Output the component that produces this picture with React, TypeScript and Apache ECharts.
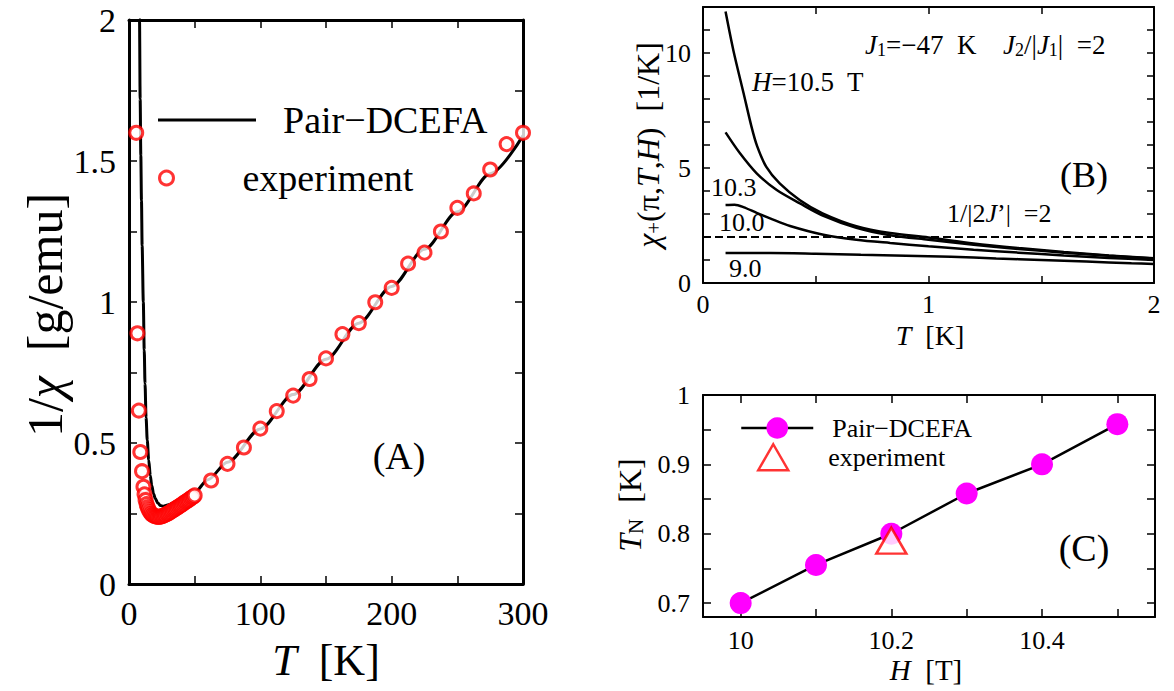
import React, { useEffect, useRef } from "react";
import * as echarts from "echarts";

const FONT = "Liberation Serif, Times New Roman, Times, serif";

// ---------- Panel (A): 1/chi vs T ----------
const aTheoryT = [7.7, 8.0, 8.5, 9.0, 9.5, 10.0, 10.9, 11.6, 12.2, 13.0, 13.9, 15.0, 16.2, 17.3, 18.7, 20, 22, 24, 26, 28, 30, 35, 40, 45, 50, 60, 75, 100, 125, 150, 175, 200, 225, 250, 275, 300];
const aTheoryInvChi = [2.3, 2.0, 1.72, 1.52, 1.36, 1.2, 1.0, 0.83, 0.71, 0.59, 0.51, 0.44, 0.385, 0.35, 0.32, 0.303, 0.287, 0.278, 0.276, 0.278, 0.281, 0.29, 0.3, 0.312, 0.325, 0.37, 0.432, 0.55, 0.672, 0.797, 0.925, 1.055, 1.187, 1.32, 1.455, 1.59];

const aExpT = [5.5, 6.4, 7.5, 8.6, 9.9, 11.0, 11.8, 12.6, 13.4, 14.2, 15, 16, 17, 18, 19, 20, 21, 22, 23, 24, 25, 26, 27, 28, 29, 30, 31, 32, 33, 34, 35, 36, 37, 38, 39, 40, 41, 42, 43, 44, 45, 46, 47, 48, 49, 50, 62.5, 75, 87.5, 100, 112.5, 125, 137.5, 150, 162.5, 175, 187.5, 200, 212.5, 225, 237.5, 250, 262.5, 275, 287.5, 300];
const aExpInvChi = [1.6, 0.889, 0.615, 0.468, 0.4, 0.345, 0.318, 0.298, 0.283, 0.272, 0.263, 0.255, 0.249, 0.245, 0.242, 0.24, 0.239, 0.238, 0.238, 0.239, 0.24, 0.242, 0.244, 0.246, 0.249, 0.251, 0.254, 0.257, 0.26, 0.263, 0.266, 0.269, 0.272, 0.275, 0.278, 0.281, 0.284, 0.288, 0.291, 0.294, 0.297, 0.3, 0.304, 0.307, 0.31, 0.314, 0.367, 0.426, 0.484, 0.551, 0.613, 0.668, 0.727, 0.8, 0.886, 0.925, 0.999, 1.05, 1.136, 1.175, 1.25, 1.334, 1.385, 1.47, 1.56, 1.6];

const aXTicks = [0, 50, 100, 150, 200, 250, 300];
const aXLabels = [0, 100, 200, 300];
const aYTicks = [0, 0.25, 0.5, 0.75, 1, 1.25, 1.5, 1.75, 2];
const aYLabels = [0, 0.5, 1, 1.5, 2];

// ---------- Panel (B): chi_+(pi,T,H) vs T ----------
const bT105 = [0.1, 0.135, 0.18, 0.215, 0.24, 0.28, 0.34, 0.43, 0.53, 0.68, 0.83, 1.0, 1.2, 1.4, 1.6, 1.8, 2.0];
const bChi105 = [11.8, 10.1, 8.25, 6.8, 5.95, 5.06, 4.33, 3.6, 3.03, 2.47, 2.17, 1.98, 1.72, 1.52, 1.35, 1.2, 1.08];
const bT103 = [0.1, 0.164, 0.238, 0.327, 0.43, 0.534, 0.68, 0.83, 1.0, 1.2, 1.4, 1.6, 1.8, 2.0];
const bChi103 = [6.55, 5.64, 4.77, 4.04, 3.46, 2.92, 2.4, 2.08, 1.88, 1.66, 1.48, 1.32, 1.18, 1.06];
const bT100 = [0.1, 0.14, 0.179, 0.238, 0.3, 0.386, 0.534, 0.68, 0.83, 1.0, 1.2, 1.4, 1.6, 1.8, 2.0];
const bChi100 = [3.39, 3.4, 3.3, 3.05, 2.8, 2.48, 2.1, 1.88, 1.74, 1.6, 1.45, 1.32, 1.2, 1.09, 1.0];
const bT90 = [0.1, 0.3, 0.5, 0.7, 0.9, 1.1, 1.3, 1.5, 1.7, 1.9, 2.0];
const bChi90 = [1.3, 1.3, 1.27, 1.23, 1.19, 1.14, 1.07, 1.0, 0.93, 0.86, 0.83];
const bCriticalChi = 2; // 1/|2J'| = 2

const bXTicks = [0, 0.5, 1, 1.5, 2];
const bXLabels = [0, 1, 2];
const bYTicks = [0, 1, 2, 3, 4, 5, 6, 7, 8, 9, 10, 11, 12];
const bYLabels = [0, 5, 10];

// ---------- Panel (C): T_N vs H ----------
const cH = [10, 10.1, 10.2, 10.3, 10.4, 10.5];
const cTN = [0.7, 0.755, 0.8, 0.858, 0.9, 0.958];
const cExpH = [10.2];
const cExpTN = [0.79];

const cXTicks = [10, 10.1, 10.2, 10.3, 10.4, 10.5];
const cXLabels = [10, 10.2, 10.4];
const cYTicks = [0.7, 0.75, 0.8, 0.85, 0.9, 0.95, 1];
const cYLabels = [0.7, 0.8, 0.9, 1];

const zip = (xs: number[], ys: number[]) => xs.map((x, i) => [x, ys[i]]);

type AxisSpec = {
  grid: number; min: number; max: number; ticks: number[]; labels: number[];
  fontSize: number; margin: number; lineWidth: number; tickLen: number;
};

function axisPair(dim: "x" | "y", s: AxisSpec) {
  const base = (pos: string, showLabel: boolean) => ({
    type: "value",
    gridIndex: s.grid,
    position: pos,
    min: s.min,
    max: s.max,
    axisLine: { show: true, onZero: false, lineStyle: { color: "#000", width: s.lineWidth } },
    axisTick: { show: true, inside: true, length: s.tickLen, lineStyle: { color: "#000", width: 1.5 }, customValues: s.ticks },
    axisLabel: {
      show: showLabel, customValues: s.labels, formatter: (v: number) => String(v),
      fontFamily: FONT, fontSize: s.fontSize, color: "#000", margin: s.margin,
    },
    splitLine: { show: false },
    minorTick: { show: false },
  });
  return dim === "x" ? [base("bottom", true), base("top", false)] : [base("left", true), base("right", false)];
}

function rich(size: number) {
  return {
    i: { fontStyle: "italic", fontSize: size, fontFamily: FONT, fill: "#000", color: "#000" },
    sub: { fontSize: Math.round(size * 0.65), fontFamily: FONT, fill: "#000", color: "#000", verticalAlign: "bottom" },
  };
}

function txt(x: number, y: number, text: string, size: number, align = "center", rotation = 0) {
  return {
    type: "text",
    x, y, rotation, z: 100, silent: true,
    style: {
      text, fontSize: size, fontFamily: FONT, fill: "#000",
      textAlign: align, textVerticalAlign: "middle", align, verticalAlign: "middle",
      rich: rich(size),
    },
  };
}

export default function App() {
  const ref = useRef<HTMLDivElement>(null);
  useEffect(() => {
    if (!ref.current) return;
    const chart = echarts.init(ref.current, null, { renderer: "svg" });

    const xAxes = [
      ...axisPair("x", { grid: 0, min: 0, max: 300, ticks: aXTicks, labels: aXLabels, fontSize: 34, margin: 12, lineWidth: 3, tickLen: 8 }),
      ...axisPair("x", { grid: 1, min: 0, max: 2, ticks: bXTicks, labels: bXLabels, fontSize: 26, margin: 8, lineWidth: 2, tickLen: 7 }),
      ...axisPair("x", { grid: 2, min: 9.95, max: 10.55, ticks: cXTicks, labels: cXLabels, fontSize: 26, margin: 10, lineWidth: 2, tickLen: 8 }),
    ];
    const yAxes = [
      ...axisPair("y", { grid: 0, min: 0, max: 2, ticks: aYTicks, labels: aYLabels, fontSize: 34, margin: 13, lineWidth: 3, tickLen: 8 }),
      ...axisPair("y", { grid: 1, min: 0, max: 12, ticks: bYTicks, labels: bYLabels, fontSize: 26, margin: 12, lineWidth: 2, tickLen: 7 }),
      ...axisPair("y", { grid: 2, min: 0.68, max: 1.0, ticks: cYTicks, labels: cYLabels, fontSize: 26, margin: 13, lineWidth: 2, tickLen: 8 }),
    ];

    const bLine = (name: string, xs: number[], ys: number[]) => ({
      name, type: "line", xAxisIndex: 2, yAxisIndex: 2, data: zip(xs, ys),
      symbol: "none", smooth: 0.3, lineStyle: { color: "#000", width: 2.5 }, itemStyle: { color: "#000" },
      silent: true,
    });

    const option: any = {
      animation: false,
      backgroundColor: "#fff",
      textStyle: { fontFamily: FONT },
      grid: [
        { left: 129, top: 20, width: 394, height: 564, containLabel: false, outerBoundsMode: "none" },
        { left: 703, top: 7, width: 451, height: 276, containLabel: false, outerBoundsMode: "none" },
        { left: 703, top: 395, width: 452, height: 222, containLabel: false, outerBoundsMode: "none" },
      ],
      xAxis: xAxes,
      yAxis: yAxes,
      legend: [
        {
          left: 158, top: 101, orient: "vertical", padding: 0, selectedMode: false,
          itemWidth: 98, itemHeight: 3,
          data: [{ name: "Pair−DCEFA", icon: "rect" }],
          itemStyle: { color: "#000", borderWidth: 0 },
          textStyle: { fontFamily: FONT, fontSize: 38, color: "#000", padding: [0, 0, 0, 22] },
        },
        {
          left: 158, top: 159, orient: "vertical", padding: 0, selectedMode: false,
          itemWidth: 78, itemHeight: 14,
          data: [{ name: "experiment" }],
          itemStyle: { borderWidth: 3, borderColor: "#ff0000", color: "#fff" },
          textStyle: { fontFamily: FONT, fontSize: 38, color: "#000", padding: [0, 0, 0, 32] },
        },
        {
          left: 740, top: 415, orient: "vertical", padding: 0, selectedMode: false,
          itemWidth: 72, itemHeight: 27,
          data: [{ name: "Pair−DCEFA (C)" }],
          formatter: (n: string) => n.replace(" (C)", ""),
          itemStyle: { borderWidth: 0 },
          lineStyle: { color: "#000", width: 2.5 },
          textStyle: { fontFamily: FONT, fontSize: 26, color: "#000", padding: [0, 0, 0, 14] },
        },
        {
          left: 757, top: 443, orient: "vertical", padding: 0, selectedMode: false,
          itemWidth: 30, itemHeight: 26,
          data: [{ name: "experiment (C)" }],
          formatter: (n: string) => n.replace(" (C)", ""),
          itemStyle: { borderWidth: 2.5, borderColor: "#ff0000", color: "#fff" },
          textStyle: { fontFamily: FONT, fontSize: 26, color: "#000", padding: [0, 0, 0, 35] },
        },
      ],
      series: [
        {
          name: "Pair−DCEFA", type: "line", xAxisIndex: 0, yAxisIndex: 0,
          data: zip(aTheoryT, aTheoryInvChi), symbol: "none", smooth: 0.3, smoothMonotone: "x",
          lineStyle: { color: "#000", width: 3 }, itemStyle: { color: "#000" }, z: 2, silent: true,
        },
        {
          name: "experiment", type: "scatter", xAxisIndex: 0, yAxisIndex: 0,
          data: zip(aExpT, aExpInvChi), symbol: "circle", symbolSize: 13,
          itemStyle: { color: "#fff", borderColor: "#ff0000", borderWidth: 3 }, z: 3, silent: true,
        },
        bLine("H=10.5 T", bT105, bChi105),
        bLine("H=10.3 T", bT103, bChi103),
        bLine("H=10.0 T", bT100, bChi100),
        {
          ...bLine("H=9.0 T", bT90, bChi90),
          markLine: {
            silent: true, symbol: "none", label: { show: false },
            lineStyle: { color: "#000", width: 2, type: [8, 4] },
            data: [{ yAxis: bCriticalChi }],
          },
        },
        {
          name: "Pair−DCEFA (C)", type: "line", xAxisIndex: 4, yAxisIndex: 4,
          data: zip(cH, cTN), symbol: "circle", symbolSize: 22,
          lineStyle: { color: "#000", width: 2.5 }, itemStyle: { color: "#ff00ff" }, z: 2, silent: true,
        },
        {
          name: "experiment (C)", type: "scatter", xAxisIndex: 4, yAxisIndex: 4,
          data: zip(cExpH, cExpTN), symbol: "triangle", symbolSize: [30, 26],
          itemStyle: { color: "#fff", borderColor: "#ff0000", borderWidth: 2.5 }, z: 3, silent: true,
        },
      ],
      graphic: [
        // Panel A
        txt(326, 660, "{i|T}  [K]", 44),
        txt(45, 315, "1/{i|χ}  [g/emu]", 50, "center", Math.PI / 2),
        txt(399, 456, "(A)", 38),
        // Panel B
        txt(930, 335, "{i|T}  [K]", 28),
        txt(648, 145, "{i|χ}{sub|+}(π,{i|T},{i|H})  [1/K]", 32, "center", Math.PI / 2),
        txt(865, 45, "{i|J}{sub|1}=−47  K", 27, "left"),
        txt(1003, 45, "{i|J}{sub|2}/|{i|J}{sub|1}|  =2", 27, "left"),
        txt(752, 82, "{i|H}=10.5  T", 27, "left"),
        txt(1084, 175, "(B)", 36),
        txt(947, 213, "1/|2{i|J}’|  =2", 26, "left"),
        txt(711, 187, "10.3", 26, "left"),
        txt(719, 222, "10.0", 26, "left"),
        txt(729, 268, "9.0", 26, "left"),
        // Panel C
        txt(926, 670, "{i|H}  [T]", 29),
        txt(630, 505, "{i|T}{sub|N}  [K]", 32, "center", Math.PI / 2),
        txt(1084, 548, "(C)", 38),
      ],
    };

    chart.setOption(option);
    return () => chart.dispose();
  }, []);

  return (
    <div
      ref={ref}
      style={{ position: "absolute", left: 0, top: 0, width: 1174, height: 691, background: "#fff" }}
    />
  );
}
